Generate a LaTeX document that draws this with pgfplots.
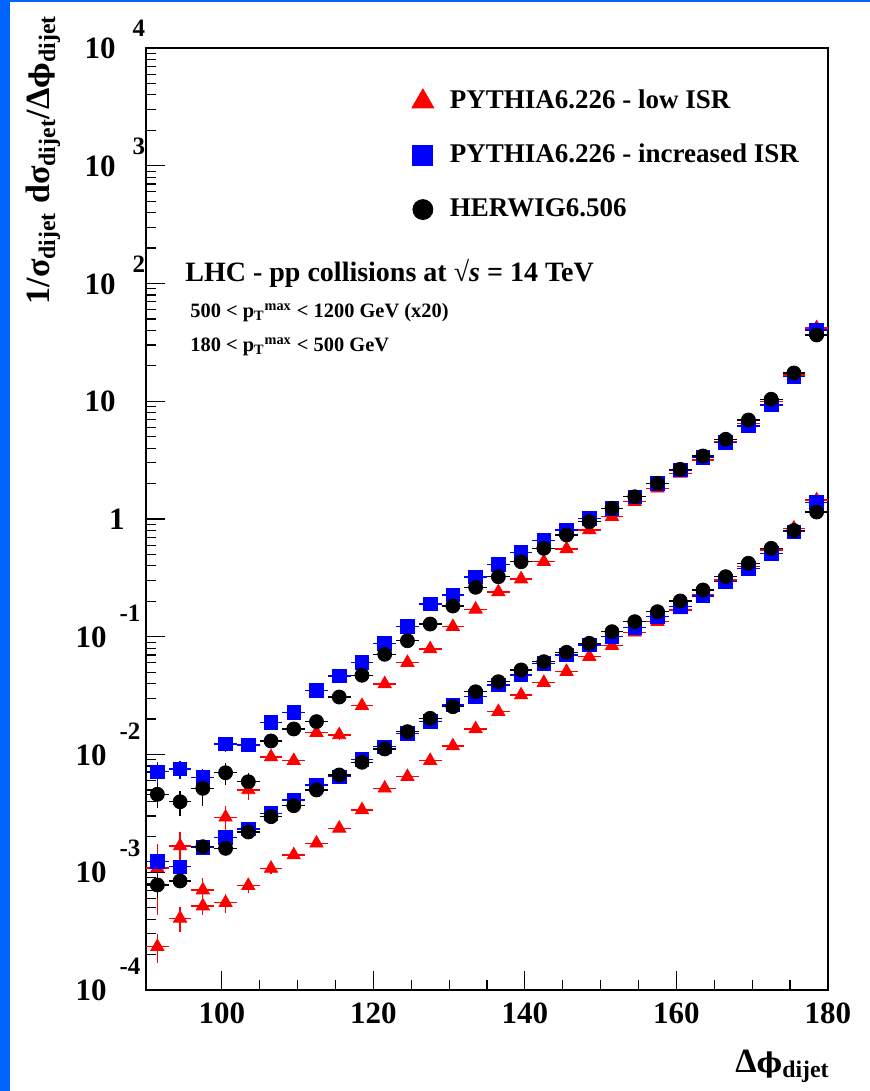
\documentclass[border=0pt]{standalone}
\usepackage{pgfplots}
\pgfplotsset{compat=1.18}
\usepackage{pgfplotstable}
\usepackage{fontspec}
\setmainfont{Liberation Serif}
\newfontfamily\phifont[Scale=0.8]{DejaVu Serif}
\definecolor{rootblue}{RGB}{0,100,255}
\definecolor{mkred}{RGB}{255,0,0}
\definecolor{mkblue}{RGB}{0,0,255}

\newcommand\negexp[1]{10\rlap{\hspace{6.5pt}\raisebox{13pt}{\fontsize{12.5}{12.5}\selectfont #1}}\kern4.5pt}
\newcommand\posexp[1]{10\rlap{\hspace{8.5pt}\raisebox{11pt}{\fontsize{12.5}{12.5}\selectfont #1}}}

% upper set (500<pT<1200, x20), low ISR
\pgfplotstableread{
x y ey
91.5 0.001086 0.00065
94.5 0.001671 0.00053
97.5 0.000706 0.00018
100.5 0.002931 0.00075
103.5 0.0050 0.00089
106.5 0.009528 0.00057
109.5 0.008851 0.00071
112.5 0.01531 0.00092
115.5 0.01466 0.00147
118.5 0.02594 0.0013
121.5 0.03972 0.0016
124.5 0.06026 0
127.5 0.0787 0
130.5 0.1216 0
133.5 0.1710 0
136.5 0.2399 0
139.5 0.3090 0
142.5 0.4335 0
145.5 0.5559 0
148.5 0.8072 0
151.5 1.045 0
154.5 1.403 0
157.5 1.823 0
160.5 2.443 0
163.5 3.170 0
166.5 4.529 0
169.5 6.501 0
172.5 9.908 0
175.5 16.71 0
178.5 41.88 0
}\urtab
% upper set, increased ISR
\pgfplotstableread{
x y ey
91.5 0.00714 0.00155
94.5 0.00753 0.00133
97.5 0.00640 0.00113
100.5 0.01227 0.00168
103.5 0.01205 0.00142
106.5 0.01876 0.0015
109.5 0.02281 0.0014
112.5 0.03483 0
115.5 0.04645 0
118.5 0.06067 0
121.5 0.0879 0
124.5 0.1227 0
127.5 0.1897 0
130.5 0.2265 0
133.5 0.3214 0
136.5 0.4121 0
139.5 0.5176 0
142.5 0.6546 0
145.5 0.8072 0
148.5 1.014 0
151.5 1.233 0
154.5 1.545 0
157.5 2.009 0
160.5 2.606 0
163.5 3.342 0
166.5 4.446 0
169.5 6.166 0
172.5 9.290 0
175.5 16.15 0
178.5 40.27 0
}\ubtab
% upper set, HERWIG
\pgfplotstableread{
x y ey
91.5 0.00459 0.00108
94.5 0.00397 0.00094
97.5 0.00516 0.00154
100.5 0.00700 0.00152
103.5 0.00587 0.00116
106.5 0.01303 0.0013
109.5 0.01648 0.0013
112.5 0.01901 0.0011
115.5 0.03076 0
118.5 0.04710 0
121.5 0.07096 0
124.5 0.09247 0
127.5 0.1282 0
130.5 0.1824 0
133.5 0.2630 0
136.5 0.3236 0
139.5 0.4335 0
142.5 0.5636 0
145.5 0.7311 0
148.5 0.9484 0
151.5 1.233 0
154.5 1.545 0
157.5 2.009 0
160.5 2.642 0
163.5 3.428 0
166.5 4.753 0
169.5 6.934 0
172.5 10.40 0
175.5 17.38 0
178.5 36.53 0
}\uktab
% lower set (180<pT<500), low ISR
\pgfplotstableread{
x y ey
91.5 0.000233 0.000064
94.5 0.000406 0.000096
97.5 0.000516 0.000081
100.5 0.000551 0.000098
103.5 0.000769 0.000105
106.5 0.001076 0.00011
109.5 0.001400 0.0001
112.5 0.001762 0.00009
115.5 0.002360 0
118.5 0.003381 0
121.5 0.005164 0
124.5 0.006471 0
127.5 0.008851 0
130.5 0.01180 0
133.5 0.01648 0
136.5 0.02307 0
139.5 0.03199 0
142.5 0.04074 0
145.5 0.05047 0
148.5 0.06776 0
151.5 0.08395 0
154.5 0.1091 0
157.5 0.1343 0
160.5 0.1687 0
163.5 0.2265 0
166.5 0.3034 0
169.5 0.3936 0
172.5 0.5458 0
175.5 0.8337 0
178.5 1.449 0
}\lrtab
% lower set, increased ISR
\pgfplotstableread{
x y ey
91.5 0.001230 0.00024
94.5 0.001114 0.00013
97.5 0.001629 0.00008
100.5 0.001982 0
103.5 0.002328 0
106.5 0.003170 0
109.5 0.004111 0
112.5 0.005508 0
115.5 0.006471 0
118.5 0.009099 0
121.5 0.01164 0
124.5 0.01514 0
127.5 0.01901 0
130.5 0.02630 0
133.5 0.03097 0
136.5 0.03890 0
139.5 0.04732 0
142.5 0.05957 0
145.5 0.06998 0
148.5 0.08511 0
151.5 0.1000 0
154.5 0.1202 0
157.5 0.1479 0
160.5 0.1799 0
163.5 0.2218 0
166.5 0.2938 0
169.5 0.3811 0
172.5 0.5117 0
175.5 0.7798 0
178.5 1.380 0
}\lbtab
% lower set, HERWIG
\pgfplotstableread{
x y ey
91.5 0.000780 0.00018
94.5 0.000843 0.000115
97.5 0.001648 0.0001
100.5 0.001596 0.0001
103.5 0.002198 0
106.5 0.002965 0
109.5 0.003673 0
112.5 0.005000 0
115.5 0.006699 0
118.5 0.008590 0
121.5 0.01114 0
124.5 0.01563 0
127.5 0.02028 0
130.5 0.02547 0
133.5 0.03412 0
136.5 0.04150 0
139.5 0.05224 0
142.5 0.06138 0
145.5 0.07379 0
148.5 0.0879 0
151.5 0.1104 0
154.5 0.1343 0
157.5 0.1633 0
160.5 0.2014 0
163.5 0.2495 0
166.5 0.3236 0
169.5 0.4207 0
172.5 0.5636 0
175.5 0.7980 0
178.5 1.146 0
}\lktab

\pgfplotsset{
  rootpts/.style={only marks, forget plot,
    error bars/x dir=both, error bars/x fixed=1.5,
    error bars/y dir=both, error bars/y explicit,
    error bars/error mark=none,
    error bars/error bar style={line width=0.6pt, solid}},
}

\begin{document}
\begin{tikzpicture}
\fill[rootblue] (-73pt,-50.5pt) rectangle (362pt,495pt);
\fill[white] (-68pt,-50.5pt) rectangle (362pt,494pt);
\begin{axis}[
  at={(0pt,0pt)}, anchor=south west,
  scale only axis, width=341pt, height=471pt,
  xmin=90, xmax=180, ymode=log, ymin=1e-4, ymax=1e4,
  axis line style={line width=1pt},
  tick style={line width=0.6pt, black},
  major tick length=9.5pt, minor tick length=5pt,
  tick align=inside, tick pos=left,
  xtick={100,120,140,160,180},
  xticklabels={100,120,140,160,180},
  minor x tick num=3,
  ytick={1e-4,1e-3,1e-2,1e-1,1,10,100,1000,10000},
  yticklabels={{\negexp{-4}},{\negexp{-3}},{\negexp{-2}},{\negexp{-1}},{1\kern-4.5pt},{10},{\posexp{2}},{\posexp{3}},{\posexp{4}}},
  xticklabel style={font=\fontsize{15.5}{15.5}\selectfont\bfseries, anchor=north, inner sep=0pt, yshift=-6pt},
  yticklabel style={font=\fontsize{15.5}{15.5}\selectfont\bfseries, anchor=base east, inner sep=0pt, xshift=-15pt, yshift=-5.3pt},
  legend style={draw=none, fill=none, at={(axis description cs:0.39,0.9565)}, anchor=north west,
    inner sep=0pt, outer sep=0pt, font=\fontsize{13.5}{13.5}\selectfont\bfseries, row sep=15pt,
    nodes={inner sep=0pt, text height=9.5pt, text depth=2.5pt},
    /tikz/every odd column/.append style={column sep=8pt}},
  legend cell align=left,
  legend image code/.code={\draw[#1] plot coordinates {(0pt,0pt)};},
]
\addlegendimage{only marks, mark=triangle*, color=mkred, mark size=6.3pt}
\addlegendentry{PYTHIA6.226 - low ISR}
\addlegendimage{only marks, mark=square*, color=mkblue, mark size=5pt}
\addlegendentry{PYTHIA6.226 - increased ISR}
\addlegendimage{only marks, mark=*, color=black, mark size=5pt}
\addlegendentry{HERWIG6.506}

\addplot[rootpts, mark=triangle*, mark size=3.8pt, color=mkred] table[x=x, y=y, y error=ey] {\urtab};
\addplot[rootpts, mark=triangle*, mark size=3.8pt, color=mkred] table[x=x, y=y, y error=ey] {\lrtab};
\addplot[rootpts, mark=square*, mark size=3.4pt, color=mkblue] table[x=x, y=y, y error=ey] {\ubtab};
\addplot[rootpts, mark=square*, mark size=3.4pt, color=mkblue] table[x=x, y=y, y error=ey] {\lbtab};
\addplot[rootpts, mark=*, mark size=3.5pt, color=black] table[x=x, y=y, y error=ey] {\uktab};
\addplot[rootpts, mark=*, mark size=3.5pt, color=black] table[x=x, y=y, y error=ey] {\lktab};
\end{axis}
\node[anchor=base west, inner sep=0pt, font=\fontsize{14}{14}\selectfont\bfseries] at (19.5pt,354.2pt) {LHC - pp collisions at √\textit{s} = 14 TeV};
\node[anchor=base west, inner sep=0pt, font=\fontsize{10.2}{10.2}\selectfont\bfseries] at (22pt,336.2pt) {500 < p\textsubscript{T}\textsuperscript{max} < 1200 GeV (x20)};
\node[anchor=base west, inner sep=0pt, font=\fontsize{10.2}{10.2}\selectfont\bfseries] at (22pt,319.2pt) {180 < p\textsubscript{T}\textsuperscript{max} < 500 GeV};
\node[anchor=base east, inner sep=0pt, font=\fontsize{17}{17}\selectfont\bfseries] at (342pt,-41pt) {Δ{\phifont ϕ}\textsubscript{dijet}};
\node[rotate=90, anchor=base east, inner sep=0pt, font=\fontsize{17}{17}\selectfont\bfseries] at (-48pt,487.5pt) {1/σ\textsubscript{dijet} dσ\textsubscript{dijet}/Δ{\phifont ϕ}\textsubscript{dijet}};
\pgfresetboundingbox
\path[use as bounding box] (-73pt,-50.5pt) rectangle (362pt,495pt);
\end{tikzpicture}
\end{document}
